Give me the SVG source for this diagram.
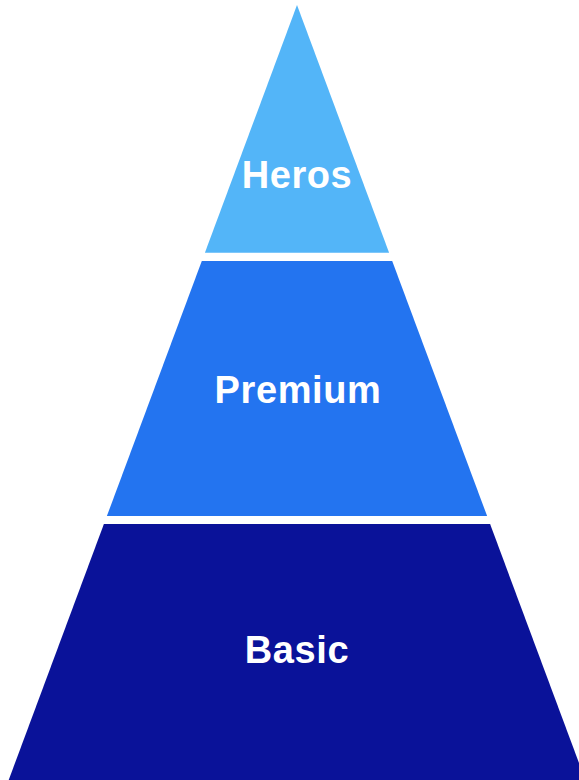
<svg xmlns="http://www.w3.org/2000/svg" width="579" height="780" viewBox="0 0 579 780">
<style>
.lbl{font-family:"Liberation Sans",Arial,Helvetica,sans-serif;font-weight:bold;font-size:38px;fill:#ffffff;text-anchor:middle;letter-spacing:0.6px}
</style>
<rect width="579" height="780" fill="#ffffff"/>
<g id="heros">
<polygon points="297,5 389.1,252.7 204.9,252.7" fill="#53B5F8"/>
<text class="lbl" x="297" y="188">Heros</text>
</g>
<g id="premium">
<polygon points="201.8,261 392.2,261 487.1,516 106.9,516" fill="#2374F0"/>
<text class="lbl" x="298" y="403">Premium</text>
</g>
<g id="basic">
<polygon points="103.9,524 490.1,524 585.3,780 8.7,780" fill="#0A1299"/>
<text class="lbl" x="297" y="663">Basic</text>
</g>
<g id="connectors"/>
</svg>
